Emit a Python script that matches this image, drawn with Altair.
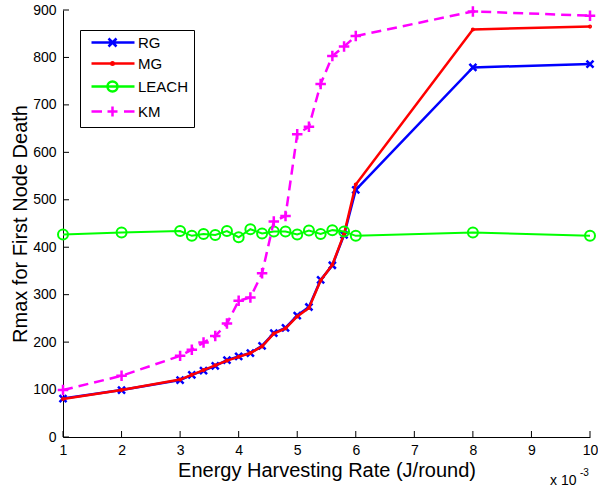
import altair as alt
import pandas as pd

# Energy harvesting rate (x 10^-3 J/round)
x_rate = [1, 2, 3, 3.2, 3.4, 3.6, 3.8, 4, 4.2, 4.4, 4.6, 4.8, 5, 5.2, 5.4, 5.6, 5.8, 6, 8, 10]
# Rmax for first node death, per scheme
rg = [81, 99, 120, 131, 140, 150, 162, 170, 177, 192, 219, 230, 256, 274, 331, 362, 426, 521, 779, 786]
mg = [80, 99, 121, 131, 141, 151, 161, 169, 177, 191, 218, 229, 254, 272, 330, 363, 428, 532, 859, 865]
leach = [427, 431, 434, 424, 428, 426, 434, 421, 438, 429, 433, 433, 427, 435, 428, 436, 433, 424, 431, 424]
km = [99, 129, 171, 184, 199, 213, 239, 287, 294, 345, 454, 466, 638, 654, 744, 803, 823, 845, 897, 888]

names = ["RG", "MG", "LEACH", "KM"]
colors = ["#0000ff", "#ff0000", "#00ff00", "#ff00ff"]
x_ticks = list(range(1, 11))
y_ticks = list(range(0, 1000, 100))

series = {"RG": rg, "MG": mg, "LEACH": leach, "KM": km}
df = pd.DataFrame(
    [{"series": s, "x": x, "y": v} for s in names for x, v in zip(x_rate, series[s])]
)

FONT = "Liberation Sans"
xs = alt.Scale(domain=[1, 10], nice=False, zero=False)
ys = alt.Scale(domain=[0, 900], nice=False)

x_axis = alt.Axis(values=x_ticks, title="Energy Harvesting Rate (J/round)", format="d")
y_axis = alt.Axis(values=y_ticks, title="Rmax for First Node Death", format="d")

# marker glyphs (unit paths)
marker_paths = {
    "RG": "M-1,-1L1,1M-1,1L1,-1",
    "MG": "M-0.4,0A0.4,0.4 0 1,1 0.4,0A0.4,0.4 0 1,1 -0.4,0",
    "LEACH": "M-1,0A1,1 0 1,1 1,0A1,1 0 1,1 -1,0",
    "KM": "M-1,0H1M0,-1V1",
}
marker_size = {"RG": 49, "MG": 16, "LEACH": 100, "KM": 110}
marker_width = {"RG": 2.5, "MG": 2.5, "LEACH": 2, "KM": 2.5}
line_width = {"RG": 2.5, "MG": 2.5, "LEACH": 2, "KM": 2.5}

# legend glyphs: line segment with the marker in the middle (units of 5 px)
legend_paths = [
    "M-0.2,0H8.4M3.2,-0.8L4.8,0.8M3.2,0.8L4.8,-0.8",
    "M-0.2,0H8.4M3.75,0A0.25,0.25 0 1,1 4.25,0A0.25,0.25 0 1,1 3.75,0",
    "M-0.2,0H8.4M3,0A1,1 0 1,1 5,0A1,1 0 1,1 3,0",
    "M-0.2,0H1.9M6.3,0H8.4M3,0H5M4,-1V1",
]

layers = []
for s, c in zip(names, colors):
    base = alt.Chart(df).transform_filter(alt.datum.series == s)
    line_kw = dict(color=c, strokeWidth=line_width[s])
    if s == "KM":
        line_kw["strokeDash"] = [10, 6]
    layers.append(
        base.mark_line(**line_kw).encode(
            x=alt.X("x:Q", scale=xs, axis=x_axis),
            y=alt.Y("y:Q", scale=ys, axis=y_axis),
        )
    )
    layers.append(
        base.mark_point(
            shape=marker_paths[s], filled=False, color=c, opacity=1,
            size=marker_size[s], strokeWidth=marker_width[s],
        ).encode(x="x:Q", y="y:Q")
    )

leg = dict(
    title=None, orient="none", legendX=17, legendY=20,
    symbolSize=100, symbolStrokeWidth=2.5, symbolOpacity=1,
    labelFont=FONT, labelFontSize=15, labelColor="black",
    strokeColor="black", fillColor="white", padding=5,
    rowPadding=4, labelOffset=38, cornerRadius=0,
)
legend_layer = alt.Chart(df).mark_point(filled=False).encode(
    color=alt.Color("series:N", scale=alt.Scale(domain=names, range=colors), legend=alt.Legend(**leg)),
    shape=alt.Shape("series:N", scale=alt.Scale(domain=names, range=legend_paths), legend=alt.Legend(**leg)),
).transform_filter("false")

# inward tick marks
xtick_layer = alt.Chart(pd.DataFrame({"x": x_ticks})).mark_rule(color="black", strokeWidth=1).encode(
    x="x:Q", y=alt.value(427), y2=alt.value(421)
)
ytick_layer = alt.Chart(pd.DataFrame({"y": y_ticks})).mark_rule(color="black", strokeWidth=1).encode(
    y="y:Q", x=alt.value(0), x2=alt.value(6)
)

exp_base = alt.Chart(pd.DataFrame({"a": [0]}))
exp_text = exp_base.mark_text(text="x 10", font=FONT, fontSize=14, align="left", baseline="middle", color="black").encode(
    x=alt.value(487), y=alt.value(471)
)
exp_sup = exp_base.mark_text(text="-3", font=FONT, fontSize=10, align="left", baseline="middle", color="black").encode(
    x=alt.value(517), y=alt.value(463)
)

chart = alt.layer(
    xtick_layer, ytick_layer, *layers, legend_layer, exp_text, exp_sup
).properties(
    width=527, height=427,
    padding={"left": 63, "top": 10, "right": 8, "bottom": 50},
    autosize=alt.AutoSizeParams(type="none"),
    background="white",
).configure_view(stroke=None).configure_axis(
    domainColor="black", domainWidth=1, ticks=False, grid=False,
    labelFont=FONT, labelFontSize=14, labelColor="black",
    titleFont=FONT, titleFontSize=20, titleFontWeight="normal", titleColor="black",
).configure_axisX(labelPadding=6, titlePadding=3, labelFlush=False).configure_axisY(
    labelPadding=7, titlePadding=2,
)

chart.save("out.html", embed_options={"renderer": "svg", "actions": False})
